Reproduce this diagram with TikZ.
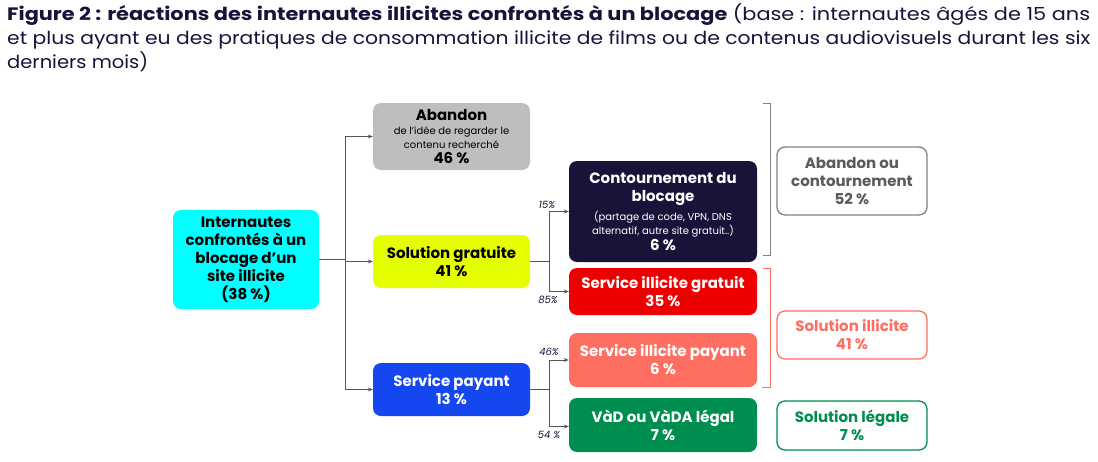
\documentclass[tikz,border=0pt]{standalone}
\usepackage{fontspec}
\usepackage{graphicx}
\setmainfont{Poppins}
\usetikzlibrary{arrows.meta}
\definecolor{navy}{HTML}{1A1238}
\definecolor{cyanb}{HTML}{00FFFF}
\definecolor{yellowb}{HTML}{E6FF00}
\definecolor{blueb}{HTML}{1447F0}
\definecolor{redb}{HTML}{EE0000}
\definecolor{salmonb}{HTML}{FF6F61}
\definecolor{greenb}{HTML}{008E50}
\definecolor{grayb}{HTML}{BEBEBE}
\definecolor{grayline}{HTML}{808080}
\definecolor{graytxt}{HTML}{5A5A5A}
\definecolor{conn}{HTML}{555555}
\newcommand{\smalltxt}[1]{{\fontsize{10}{12}\selectfont\mdseries #1}}
\tikzset{
  box/.style={rounded corners=8pt, align=center, inner sep=0pt, font=\bfseries\fontsize{15}{18}\selectfont},
  sbox/.style={box, draw, line width=1.3pt, fill=white},
  arr/.style={draw=conn, line width=0.9pt, -{Stealth[length=5pt,width=4pt]}},
  ln/.style={draw=conn, line width=0.9pt},
  pct/.style={font=\itshape\fontsize{10}{11}\selectfont, text=navy, inner sep=0pt},
  ttl/.style={anchor=base west, inner sep=0pt, text=navy, font=\fontsize{18}{22}\selectfont},
}
\begin{document}
\begin{tikzpicture}[x=1pt,y=-1pt]
\useasboundingbox (0,0) rectangle (1098,461);
% title
\node[ttl] (t1) at (7,20) {\resizebox{1083pt}{\height}{\textbf{Figure 2 : réactions des internautes illicites confrontés à un blocage} (base : internautes âgés de 15 ans}};
\node[ttl] (t2) at (7,44) {\resizebox{1083pt}{\height}{et plus ayant eu des pratiques de consommation illicite de films ou de contenus audiovisuels durant les six}};
\node[ttl] (t3) at (7,68) {\resizebox{141pt}{\height}{derniers mois)}};
% boxes
\node[box, fill=cyanb, text=black, minimum width=146pt, minimum height=99pt] (start) at (246,259.5) {Internautes\\confrontés à un\\blocage d'un\\site illicite\\(38 \%)};
\node[box, fill=grayb, text=black, minimum width=157pt, minimum height=67pt] (aband) at (451.5,136.5) {Abandon\\[-4pt]\smalltxt{de l'idée de regarder le}\\[-4pt]\smalltxt{contenu recherché}\\[-3pt]46 \%};
\node[box, fill=yellowb, text=black, minimum width=157pt, minimum height=53pt] (solg) at (451.5,261.5) {Solution gratuite\\41 \%};
\node[box, fill=blueb, text=white, minimum width=157pt, minimum height=53pt] (servp) at (451.5,389.5) {Service payant\\13 \%};
\node[box, fill=navy, text=white, minimum width=188pt, minimum height=101pt] (cont) at (663,211.5) {Contournement du\\blocage\\[1pt]\smalltxt{(partage de code, VPN, DNS}\\[-4pt]\smalltxt{alternatif, autre site gratuit..)}\\[-2pt]6 \%};
\node[box, fill=redb, text=white, minimum width=188pt, minimum height=47pt] (sig) at (663,291.5) {Service illicite gratuit\\35 \%};
\node[box, fill=salmonb, text=white, minimum width=188pt, minimum height=54pt] (sip) at (663,360) {Service illicite payant\\6 \%};
\node[box, fill=greenb, text=white, minimum width=188pt, minimum height=54pt] (vad) at (663,425) {VàD ou VàDA légal\\7 \%};
% summary boxes
\node[sbox, draw=grayline, text=graytxt, minimum width=150pt, minimum height=68pt] (abc) at (852,181) {Abandon ou\\contournement\\52 \%};
\node[sbox, draw=salmonb, text=salmonb, minimum width=150pt, minimum height=48pt] (sil) at (852,335) {Solution illicite\\41 \%};
\node[sbox, draw=greenb, text=greenb, minimum width=150pt, minimum height=49pt] (sle) at (852,425.5) {Solution légale\\7 \%};
% connectors
\coordinate (j1) at (345,259.5);
\coordinate (j2) at (549,261.5);
\coordinate (j3) at (549,389.5);
\draw[ln] (start.east) -- (j1);
\draw[arr] (j1) |- (aband.west);
\draw[arr] (j1) |- (solg.west);
\draw[arr] (j1) |- (servp.west);
\draw[ln] (solg.east) -- (j2);
\draw[arr] (j2) |- (cont.west);
\draw[arr] (j2) |- (sig.west);
\draw[ln] (servp.east) -- (j3);
\draw[arr] (j3) |- (sip.west);
\draw[arr] (j3) |- ([yshift=-1.5pt]vad.west);
% percentages
\node[pct] (p15) at (547,205) {15\%};
\node[pct] (p85) at (548,300) {85\%};
\node[pct] (p46) at (549,352) {46\%};
\node[pct] (p54) at (549,435) {54 \%};
% brackets
\draw[grayline, line width=0.8pt] (763,103) -- (770,103) -- (770,255) -- (763,255);
\draw[salmonb, line width=0.8pt] (763,268) -- (770,268) -- (770,387) -- (762,387);
\end{tikzpicture}
\end{document}
